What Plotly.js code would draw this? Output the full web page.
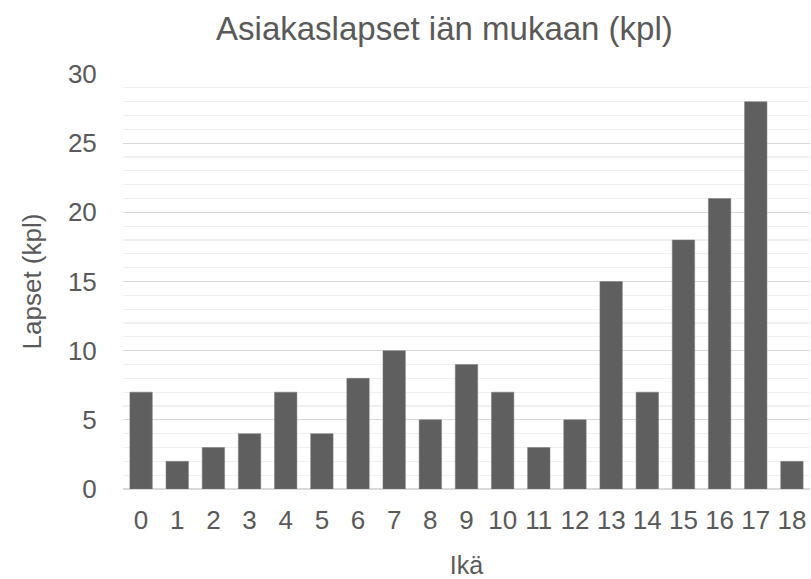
<!DOCTYPE html>
<html><head><meta charset="utf-8">
<script src="https://cdn.plot.ly/plotly-3.0.1.min.js"></script>
<style>html,body{margin:0;padding:0;background:#fff}</style>
</head><body><div id="chart" style="width:811px;height:579px"></div>
<script>
const categories = ["0","1","2","3","4","5","6","7","8","9","10","11","12","13","14","15","16","17","18"];
const values = [7,2,3,4,7,4,8,10,5,9,7,3,5,15,7,18,21,28,2];
const yTicks = [0,5,10,15,20,25,30];

const font = "Liberation Sans, Arial, sans-serif";
Plotly.newPlot("chart", [{
  type: "bar", x: categories, y: values,
  marker: {color: "#5f5f5f", line: {color: "#7a7a7a", width: 0.5}},
  hoverinfo: "x+y"
}], {
  width: 811, height: 579,
  margin: {l: 123, r: 1, t: 74, b: 90},
  paper_bgcolor: "#fff", plot_bgcolor: "#fff",
  bargap: 0.38,
  showlegend: false,
  title: {text: "Asiakaslapset iän mukaan (kpl)", font: {family: font, size: 33, color: "#595959"}, x: 0.548, xanchor: "center", yref: "container", y: 0.951, yanchor: "middle"},
  xaxis: {
    type: "category", tickfont: {family: font, size: 26, color: "#595959"},
    ticks: "outside", ticklen: 8, tickcolor: "rgba(0,0,0,0)",
    showgrid: false, showline: false, zeroline: false,
    title: {text: "Ikä", font: {family: font, size: 25, color: "#595959"}, standoff: 25}
  },
  yaxis: {
    range: [0, 30], tickvals: yTicks, ticktext: yTicks.map(String),
    tickfont: {family: font, size: 26, color: "#595959"},
    ticks: "outside", ticklen: 20, tickcolor: "rgba(0,0,0,0)",
    showgrid: true, gridcolor: "#d9d9d9", gridwidth: 1.3,
    zeroline: true, zerolinecolor: "#d9d9d9", zerolinewidth: 1.3,
    minor: {dtick: 1, showgrid: true, gridcolor: "#f0f0f0", gridwidth: 1.3},
    title: {text: "Lapset (kpl)", font: {family: font, size: 26, color: "#595959"}, standoff: 18}
  }
}, {displayModeBar: false, staticPlot: true});
</script></body></html>
